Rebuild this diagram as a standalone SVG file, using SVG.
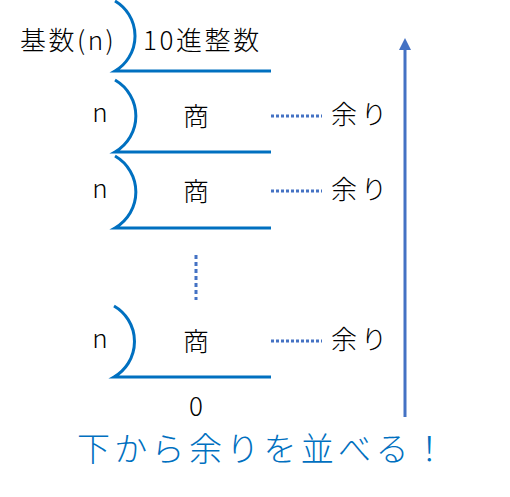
<svg xmlns="http://www.w3.org/2000/svg" width="510" height="497" viewBox="0 0 510 497">
<style>
.br{fill:none;stroke:#0070C0;stroke-width:3}
.dot{fill:none;stroke:#4472C4;stroke-width:3;stroke-dasharray:3 2}
.t{font-family:"Noto Sans CJK JP","Noto Sans",sans-serif;font-size:26px;font-weight:300;fill:#000}
.c{text-anchor:middle}
.r{letter-spacing:4px}
.big{font-family:"Noto Sans CJK JP","Noto Sans",sans-serif;font-size:33px;font-weight:300;fill:#0070C0;letter-spacing:4.3px}
</style>
<defs>
<marker id="ah" viewBox="0 0 12 12" refX="6" refY="6" markerWidth="12" markerHeight="12" markerUnits="userSpaceOnUse" orient="auto">
<path d="M0,0 L12,6 L0,12 Z" fill="#4472C4"/>
</marker>
</defs>
<rect width="510" height="497" fill="#fff"/>
<g id="step1">
<path class="br" d="M115,1 A40.6,40.6 0 0 1 115,71 L271,71"/>
<text class="t" x="20" y="50" style="letter-spacing:2.5px">基数(n)</text>
<text class="t" x="143" y="50" style="letter-spacing:2.6px">10進整数</text>
</g>
<g id="step2">
<path class="br" d="M115,80 A41.5,41.5 0 0 1 115,152 L271,152"/>
<text class="t c" x="100" y="122">n</text>
<text class="t c" x="196" y="126">商</text>
<text class="t r" x="331" y="124">余り</text>
</g>
<g id="step3">
<path class="br" d="M115,156 A41.5,41.5 0 0 1 115,228 L271,228"/>
<text class="t c" x="100" y="198">n</text>
<text class="t c" x="196" y="201">商</text>
<text class="t r" x="331" y="199">余り</text>
</g>
<g id="step4">
<path class="br" d="M114,306 A41,41 0 0 1 114,377 L271,377"/>
<text class="t c" x="100" y="348">n</text>
<text class="t c" x="196" y="351">商</text>
<text class="t r" x="331" y="349">余り</text>
</g>
<g id="zero">
<text class="t c" x="196" y="416">0</text>
</g>
<g id="caption">
<text class="big" x="77" y="461">下から余りを並べる！</text>
</g>
<g id="connectors">
<line class="dot" x1="271" y1="116" x2="322" y2="116"/>
<line class="dot" x1="271" y1="191" x2="322" y2="191"/>
<line class="dot" x1="271" y1="341" x2="322" y2="341"/>
<line class="dot" x1="196" y1="255" x2="196" y2="300" style="stroke-dasharray:4 3"/>
<line x1="405" y1="417" x2="405" y2="44" stroke="#4472C4" stroke-width="3" marker-end="url(#ah)"/>
</g>
</svg>
